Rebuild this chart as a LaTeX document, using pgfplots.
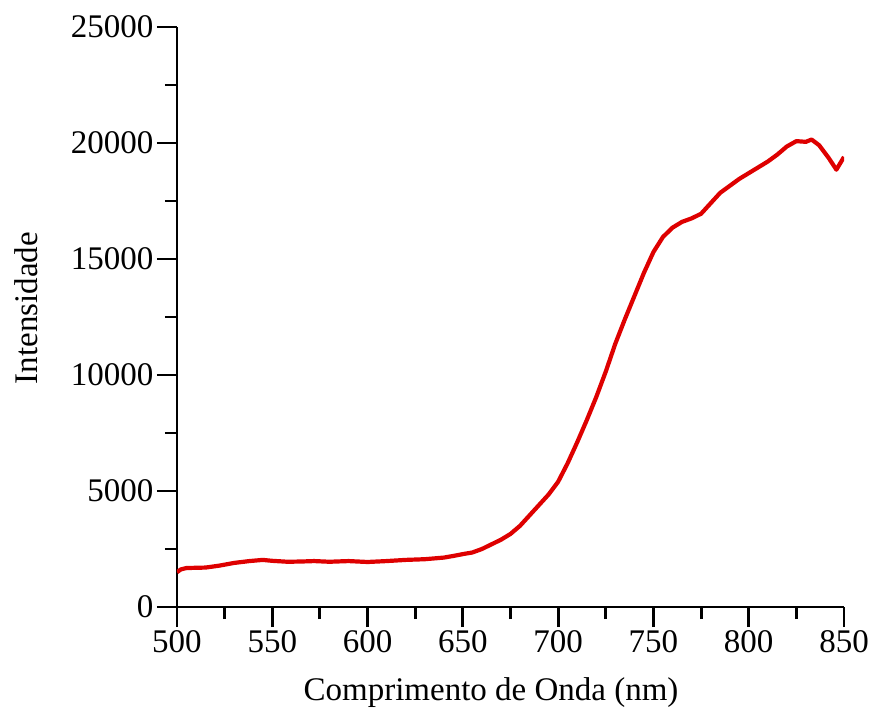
\documentclass[border=0pt]{standalone}
\usepackage{pgfplots}
\pgfplotsset{compat=1.18}
\usepackage{fontspec}
\setmainfont{Liberation Serif}
\definecolor{specred}{RGB}{222,0,0}
\begin{document}
\begin{tikzpicture}
\begin{axis}[
  at={(0,0)}, anchor=south west,
  scale only axis, width=667pt, height=580pt,
  xmin=500, xmax=850, ymin=0, ymax=25000,
  axis x line*=bottom, axis y line*=left,
  axis line style={line width=2.9pt, -},
  xtick={500,550,...,850}, ytick={0,5000,...,25000},
  minor tick num=1,
  tick align=outside,
  major tick length=20pt, minor tick length=12pt,
  every tick/.style={black, line width=2.9pt},
  tick label style={font=\fontsize{33}{38}\selectfont},
  /pgf/number format/assume math mode=true,
  /pgf/number format/set thousands separator={},
  scaled ticks=false,
  xlabel={Comprimento de Onda (nm)},
  ylabel={Intensidade},
  label style={font=\fontsize{33}{38}\selectfont},
  xlabel style={at={(axis description cs:0.4708,-0.148)}, anchor=center},
  ylabel style={at={(axis description cs:-0.2264,0.5155)}, anchor=center},
]
\addplot[specred, line width=4.2pt, line join=round] coordinates {
(500,1500) (502,1620) (505,1680) (515,1700) (522,1780) (530,1900) (538,1980) (545,2030)
(550,1990) (558,1950) (565,1960) (572,1980) (580,1950) (590,1980) (600,1940)
(610,1980) (620,2030) (630,2060) (640,2130) (645,2200) (650,2280) (655,2350)
(660,2500) (665,2700) (670,2900) (675,3150) (680,3500) (685,3950) (690,4400)
(695,4850) (700,5400) (705,6200) (710,7100) (715,8050) (720,9050) (725,10150)
(730,11350) (735,12400) (740,13400) (745,14400) (750,15300) (755,15950)
(760,16350) (765,16600) (770,16750) (775,16950) (780,17400) (785,17850)
(790,18150) (795,18450) (800,18700) (805,18950) (810,19200) (815,19500)
(820,19850) (825,20080) (830,20050) (833,20150) (837,19900) (842,19350)
(846,18850) (850,19400)
};
\end{axis}
\pgfresetboundingbox
\path (-177pt,-105pt) rectangle (692pt,607pt);
\end{tikzpicture}
\end{document}
